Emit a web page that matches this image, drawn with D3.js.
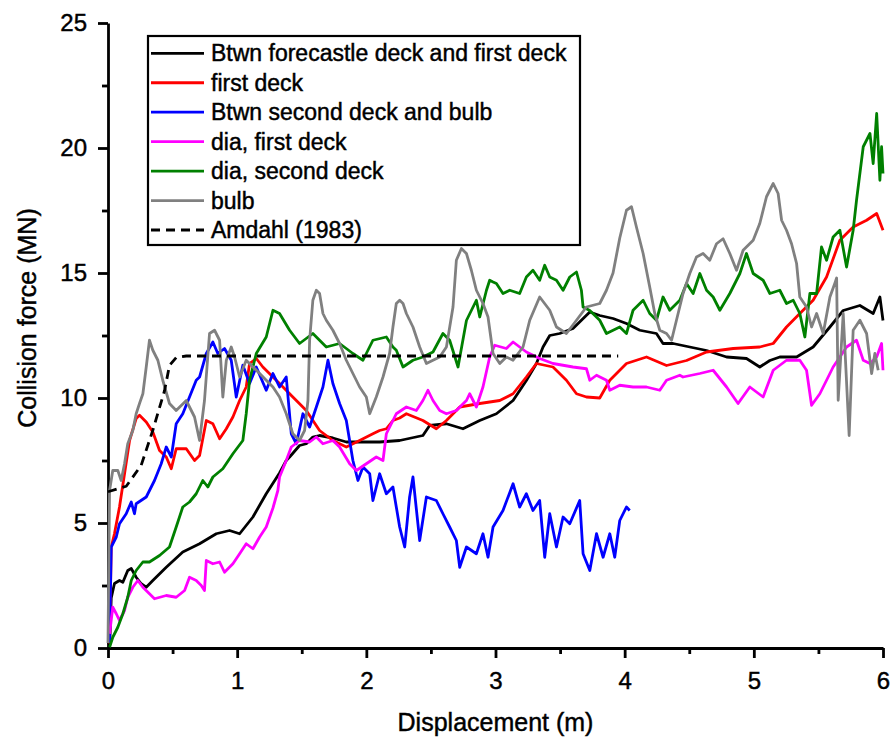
<!DOCTYPE html>
<html>
<head>
<meta charset="utf-8">
<script src="https://cdn.jsdelivr.net/npm/d3@7"></script>
<style>
  body { margin: 0; background: #fff; }
  text { font-family: "Liberation Sans", Arial, sans-serif; fill: #000; stroke: #000; stroke-width: 0.45px; }
</style>
</head>
<body>
<div id="plot"></div>
<script>
  // x = displacement (m), y = collision force (MN)
  var seriesNames = ["Btwn forecastle deck and first deck", "first deck", "Btwn second deck and bulb",
                     "dia, first deck", "dia, second deck", "bulb", "Amdahl (1983)"];
  var seriesColors = ["#000000", "#ff0000", "#0000ff", "#ff00ff", "#008000", "#808080", "#000000"];
  var xTicks = [0, 1, 2, 3, 4, 5, 6];
  var yTicks = [0, 5, 10, 15, 20, 25];

  var forecastle = [[0.012,0.0],[0.025,2.0],[0.05,2.58],[0.089,2.7],[0.115,2.63],[0.153,3.1],[0.18,3.18],[0.218,2.83],[0.257,2.57],[0.296,2.43],[0.347,2.7],[0.451,3.23],[0.579,3.84],[0.709,4.17],[0.838,4.57],[0.941,4.7],[1.019,4.57],[1.122,5.24],[1.225,6.17],[1.328,7.0],[1.38,7.5],[1.406,7.64],[1.483,8.1],[1.535,8.17],[1.586,8.44],[1.638,8.5],[1.741,8.4],[1.845,8.24],[2.0,8.24],[2.103,8.24],[2.258,8.3],[2.438,8.5],[2.49,8.9],[2.62,8.97],[2.748,8.77],[2.878,9.1],[3.007,9.37],[3.136,9.9],[3.239,10.7],[3.317,11.38],[3.368,12.04],[3.42,12.5],[3.497,12.58],[3.6,12.78],[3.73,13.44],[3.807,13.3],[3.91,13.18],[4.014,12.98],[4.117,12.71],[4.246,12.58],[4.297,12.18],[4.375,12.18],[4.504,12.04],[4.634,11.9],[4.789,11.64],[4.943,11.58],[5.046,11.24],[5.124,11.5],[5.201,11.64],[5.331,11.64],[5.459,12.04],[5.589,12.84],[5.692,13.5],[5.821,13.7],[5.924,13.38],[5.976,14.04],[6.0,13.1]];

  var firstDeck = [[0.012,0.18],[0.025,4.04],[0.05,4.57],[0.089,5.64],[0.128,6.97],[0.167,8.3],[0.218,9.18],[0.244,9.31],[0.296,9.04],[0.347,8.64],[0.399,7.9],[0.451,7.64],[0.49,7.17],[0.528,7.97],[0.606,7.97],[0.67,7.5],[0.709,7.7],[0.761,9.1],[0.812,8.97],[0.864,8.37],[0.916,8.77],[0.967,9.24],[1.019,9.9],[1.07,10.44],[1.096,11.38],[1.148,11.58],[1.199,11.24],[1.328,10.58],[1.431,10.04],[1.535,9.5],[1.638,8.7],[1.741,8.3],[1.845,8.04],[1.948,8.3],[2.051,8.57],[2.103,8.7],[2.155,8.77],[2.206,9.1],[2.258,9.2],[2.31,9.37],[2.438,9.1],[2.542,8.77],[2.62,9.1],[2.723,9.64],[2.878,9.78],[3.033,9.9],[3.136,10.17],[3.239,10.84],[3.317,11.38],[3.445,11.24],[3.549,10.71],[3.627,10.17],[3.704,10.04],[3.807,10.0],[3.885,10.71],[4.014,11.38],[4.169,11.64],[4.324,11.3],[4.479,11.5],[4.634,11.84],[4.84,11.98],[5.046,12.04],[5.15,12.18],[5.253,12.84],[5.356,13.38],[5.459,13.91],[5.563,14.84],[5.666,16.31],[5.769,16.84],[5.873,17.11],[5.951,17.38],[6.0,16.71]];

  var secondDeckBulb = [[0.012,0.2],[0.025,4.04],[0.064,4.44],[0.089,4.97],[0.141,5.37],[0.18,5.84],[0.205,5.37],[0.218,5.77],[0.296,6.04],[0.36,6.7],[0.412,7.37],[0.451,8.04],[0.49,7.64],[0.528,8.97],[0.579,9.37],[0.631,10.04],[0.683,10.71],[0.709,10.84],[0.761,11.78],[0.812,12.24],[0.85,11.78],[0.902,11.98],[0.954,11.51],[0.993,10.04],[1.044,11.31],[1.096,10.58],[1.148,11.24],[1.225,10.31],[1.277,10.98],[1.328,10.44],[1.38,10.84],[1.419,8.57],[1.458,8.17],[1.509,9.37],[1.561,8.84],[1.613,9.64],[1.664,10.44],[1.703,11.51],[1.741,10.58],[1.793,9.78],[1.845,9.1],[1.896,7.5],[1.935,6.7],[1.974,7.24],[2.026,6.97],[2.051,5.9],[2.103,6.97],[2.155,6.17],[2.206,6.44],[2.258,4.84],[2.297,4.04],[2.335,6.04],[2.361,6.84],[2.413,4.3],[2.465,6.04],[2.542,5.9],[2.593,5.37],[2.645,4.84],[2.697,4.3],[2.723,3.23],[2.775,4.04],[2.852,3.77],[2.903,4.57],[2.942,3.63],[2.981,4.84],[3.058,5.5],[3.136,6.57],[3.187,5.64],[3.239,6.17],[3.29,5.5],[3.342,5.9],[3.381,3.63],[3.42,5.37],[3.472,4.04],[3.523,5.24],[3.575,4.97],[3.652,5.9],[3.678,3.77],[3.73,3.1],[3.782,4.57],[3.833,3.63],[3.885,4.57],[3.923,3.63],[3.962,5.1],[4.014,5.64],[4.039,5.5]];

  var diaFirst = [[0.012,0.57],[0.037,1.63],[0.064,1.37],[0.089,1.1],[0.128,1.5],[0.153,2.03],[0.192,2.43],[0.231,2.7],[0.27,2.43],[0.321,2.17],[0.36,1.97],[0.451,2.1],[0.528,2.03],[0.593,2.3],[0.631,2.83],[0.683,2.7],[0.722,2.5],[0.747,2.3],[0.761,3.5],[0.812,3.37],[0.864,3.44],[0.902,3.03],[0.967,3.37],[1.019,3.77],[1.07,4.17],[1.122,3.97],[1.174,4.44],[1.225,4.84],[1.277,5.6],[1.315,6.3],[1.328,6.84],[1.38,7.5],[1.419,8.04],[1.483,8.3],[1.561,8.24],[1.613,8.44],[1.664,8.17],[1.741,8.3],[1.793,8.04],[1.871,7.37],[1.923,7.1],[2.0,7.37],[2.077,7.64],[2.129,7.5],[2.155,8.57],[2.232,9.37],[2.31,9.64],[2.387,9.5],[2.438,9.9],[2.477,10.31],[2.516,9.9],[2.568,9.5],[2.62,9.37],[2.697,9.5],[2.775,9.9],[2.8,10.17],[2.852,9.64],[2.903,10.44],[2.955,11.64],[2.994,12.11],[3.084,11.98],[3.136,12.24],[3.187,12.04],[3.239,11.84],[3.342,11.58],[3.445,11.38],[3.6,11.24],[3.704,11.17],[3.73,10.71],[3.782,10.91],[3.859,10.71],[3.885,10.31],[3.962,10.51],[4.065,10.44],[4.169,10.44],[4.272,10.31],[4.324,10.71],[4.427,10.91],[4.452,10.84],[4.582,10.98],[4.685,11.11],[4.789,10.44],[4.878,9.78],[4.969,10.44],[5.072,10.04],[5.15,11.11],[5.253,11.51],[5.356,11.51],[5.408,11.11],[5.447,9.71],[5.511,10.17],[5.614,11.24],[5.718,12.04],[5.795,12.31],[5.847,11.51],[5.899,11.38],[5.951,11.64],[5.989,12.18],[6.0,11.11]];

  var diaSecond = [[0.012,0.03],[0.037,0.43],[0.076,0.83],[0.115,1.37],[0.153,2.03],[0.18,2.7],[0.218,3.1],[0.27,3.44],[0.321,3.44],[0.399,3.7],[0.476,4.04],[0.528,4.84],[0.579,5.64],[0.631,5.84],[0.683,6.17],[0.734,6.7],[0.773,6.44],[0.812,6.84],[0.889,7.17],[0.967,7.77],[1.044,8.3],[1.07,9.37],[1.096,10.71],[1.148,11.78],[1.225,12.44],[1.277,13.51],[1.328,13.38],[1.406,12.71],[1.483,12.18],[1.586,12.58],[1.69,12.04],[1.793,12.18],[1.896,11.78],[1.974,11.51],[2.051,12.31],[2.155,12.44],[2.206,12.04],[2.232,11.91],[2.284,11.24],[2.361,11.51],[2.438,11.64],[2.516,11.84],[2.593,12.58],[2.645,12.31],[2.71,11.24],[2.775,13.1],[2.852,13.91],[2.878,13.24],[2.93,14.31],[2.955,14.71],[2.981,14.64],[3.007,14.58],[3.058,14.18],[3.11,14.31],[3.187,14.18],[3.239,14.84],[3.29,15.11],[3.342,14.71],[3.381,15.31],[3.42,14.84],[3.472,14.71],[3.523,14.31],[3.575,14.84],[3.627,15.04],[3.665,14.31],[3.678,13.64],[3.73,13.5],[3.807,13.11],[3.859,12.58],[3.962,12.84],[4.014,12.58],[4.065,13.51],[4.143,13.91],[4.194,13.38],[4.246,13.11],[4.297,14.04],[4.349,13.51],[4.427,13.91],[4.479,14.58],[4.53,14.18],[4.582,14.98],[4.634,14.31],[4.685,14.04],[4.737,13.51],[4.814,14.18],[4.892,14.98],[4.943,15.78],[4.995,14.98],[5.072,14.71],[5.124,14.18],[5.201,14.31],[5.253,13.78],[5.305,13.91],[5.356,13.38],[5.395,12.44],[5.434,14.18],[5.486,14.18],[5.524,16.04],[5.563,15.51],[5.614,16.44],[5.666,16.71],[5.718,15.24],[5.769,16.71],[5.795,17.91],[5.847,20.05],[5.899,20.58],[5.924,19.38],[5.951,21.38],[5.976,18.71],[5.989,20.05],[6.0,18.98]];

  var bulb = [[0.0,0.2],[0.012,6.3],[0.037,7.1],[0.076,7.1],[0.102,6.7],[0.128,7.37],[0.153,8.17],[0.192,8.7],[0.218,9.37],[0.244,9.78],[0.27,10.17],[0.296,11.24],[0.321,12.31],[0.347,11.91],[0.386,11.51],[0.424,10.71],[0.476,9.78],[0.528,9.5],[0.606,9.9],[0.67,9.24],[0.709,8.3],[0.747,9.9],[0.786,12.58],[0.825,12.71],[0.864,12.31],[0.889,10.04],[0.916,11.51],[0.954,12.04],[0.98,11.64],[1.019,10.84],[1.07,11.51],[1.122,11.24],[1.174,10.98],[1.225,10.71],[1.277,10.44],[1.328,10.04],[1.38,9.37],[1.431,8.57],[1.483,8.3],[1.522,8.7],[1.548,9.9],[1.561,12.31],[1.586,13.91],[1.613,14.31],[1.638,14.18],[1.664,13.38],[1.69,13.11],[1.741,12.71],[1.793,12.18],[1.845,11.51],[1.896,10.98],[1.948,10.44],[2.0,10.04],[2.026,9.37],[2.077,10.04],[2.129,10.84],[2.18,11.78],[2.206,12.84],[2.232,13.78],[2.258,13.91],[2.284,13.78],[2.31,13.38],[2.361,12.84],[2.413,12.04],[2.465,11.38],[2.516,11.51],[2.568,11.64],[2.62,12.04],[2.671,13.64],[2.697,15.51],[2.736,15.98],[2.775,15.78],[2.813,15.11],[2.852,14.31],[2.903,13.78],[2.942,13.24],[2.981,11.78],[3.033,11.38],[3.084,11.64],[3.136,11.51],[3.213,12.04],[3.265,13.11],[3.342,14.04],[3.42,13.51],[3.472,12.84],[3.549,12.58],[3.627,13.11],[3.704,13.64],[3.807,13.78],[3.859,14.31],[3.91,15.0],[3.962,16.4],[4.014,17.51],[4.053,17.65],[4.091,16.84],[4.143,15.78],[4.194,14.44],[4.233,13.38],[4.272,12.71],[4.324,12.58],[4.363,12.31],[4.401,13.11],[4.452,14.18],[4.504,14.98],[4.556,15.64],[4.607,15.78],[4.659,15.51],[4.711,16.17],[4.762,16.37],[4.814,15.78],[4.866,15.11],[4.917,15.91],[4.995,16.31],[5.046,16.98],[5.098,18.05],[5.15,18.58],[5.188,18.18],[5.215,17.11],[5.253,16.71],[5.292,16.17],[5.331,15.38],[5.356,14.04],[5.408,13.64],[5.447,12.84],[5.486,13.38],[5.537,12.58],[5.589,14.04],[5.628,14.6],[5.641,14.8],[5.653,9.91],[5.692,13.38],[5.738,8.5],[5.769,12.71],[5.821,13.11],[5.873,12.58],[5.912,10.98],[5.937,11.78],[5.963,11.11]];

  var amdahl = [[0.0,6.25],[0.141,6.47],[0.257,7.31],[0.347,8.71],[0.438,10.3],[0.476,11.3],[0.528,11.62],[0.606,11.68],[3.95,11.68]];

  var allSeries = [forecastle, firstDeck, secondDeckBulb, diaFirst, diaSecond, bulb, amdahl];

  var margin = {top: 23, right: 8, bottom: 91, left: 108};
  var width = 883 - margin.left,
      height = 648 - margin.top;

  var svg = d3.select("#plot")
      .append("svg")
      .attr("width", 891)
      .attr("height", 739);

  var x = d3.scaleLinear().domain([0, 6]).range([0, width]),
      y = d3.scaleLinear().domain([0, 25]).range([height, 0]);

  var g = svg.append("g")
    .attr("transform", "translate(" + margin.left + "," + margin.top + ")");

  var line = d3.line()
    .x(function(d) { return x(d[0]); })
    .y(function(d) { return y(d[1]); });

  // minor ticks
  g.append("g")
    .attr("transform", "translate(0," + height + ")")
    .call(d3.axisBottom(x).tickValues(d3.range(0.5, 6, 1)).tickSize(6).tickFormat("").tickSizeOuter(0))
    .call(function(a) { a.select(".domain").remove(); a.selectAll("line").attr("stroke-width", 2.8); });
  g.append("g")
    .call(d3.axisLeft(y).tickValues(d3.range(2.5, 25, 5)).tickSize(6).tickFormat("").tickSizeOuter(0))
    .call(function(a) { a.select(".domain").remove(); a.selectAll("line").attr("stroke-width", 2.8); });

  var xAxis = g.append("g")
    .attr("transform", "translate(0," + height + ")")
    .call(d3.axisBottom(x).tickValues(xTicks).tickSize(10).tickPadding(14).tickSizeOuter(0).tickFormat(d3.format("d")));
  var yAxis = g.append("g")
    .call(d3.axisLeft(y).tickValues(yTicks).tickSize(10).tickPadding(11).tickSizeOuter(0).tickFormat(d3.format("d")));

  [xAxis, yAxis].forEach(function(a) {
    a.select(".domain").attr("stroke-width", 2.8);
    a.selectAll("line").attr("stroke-width", 2.8);
    a.selectAll("text").style("font-size", "24px").attr("font-family", null);
  });

  allSeries.forEach(function(s, i) {
    g.append("path")
      .datum(s)
      .attr("fill", "none")
      .attr("stroke", seriesColors[i])
      .attr("stroke-width", 2.8)
      .attr("stroke-linejoin", "round")
      .attr("stroke-dasharray", i === 6 ? "9,6" : null)
      .attr("d", line);
  });

  // axis titles
  svg.append("text")
    .attr("x", margin.left + width / 2)
    .attr("y", 731)
    .attr("text-anchor", "middle")
    .style("font-size", "25px")
    .text("Displacement (m)");
  svg.append("text")
    .attr("transform", "translate(36," + 318 + ") rotate(-90)")
    .attr("text-anchor", "middle")
    .style("font-size", "25px")
    .text("Collision force (MN)");

  // legend
  var legend = svg.append("g").attr("transform", "translate(148,36)");
  legend.append("rect")
    .attr("width", 432).attr("height", 209)
    .attr("fill", "#fff").attr("stroke", "#000").attr("stroke-width", 2.2);
  seriesNames.forEach(function(name, i) {
    var cy = 17.3 + i * 29.45;
    legend.append("line")
      .attr("x1", 3).attr("x2", 56).attr("y1", cy).attr("y2", cy)
      .attr("stroke", seriesColors[i]).attr("stroke-width", 2.8)
      .attr("stroke-dasharray", i === 6 ? "9,6" : null);
    legend.append("text")
      .attr("x", 63).attr("y", cy + 8)
      .style("font-size", "23px")
      .text(name);
  });
</script>
</body>
</html>
